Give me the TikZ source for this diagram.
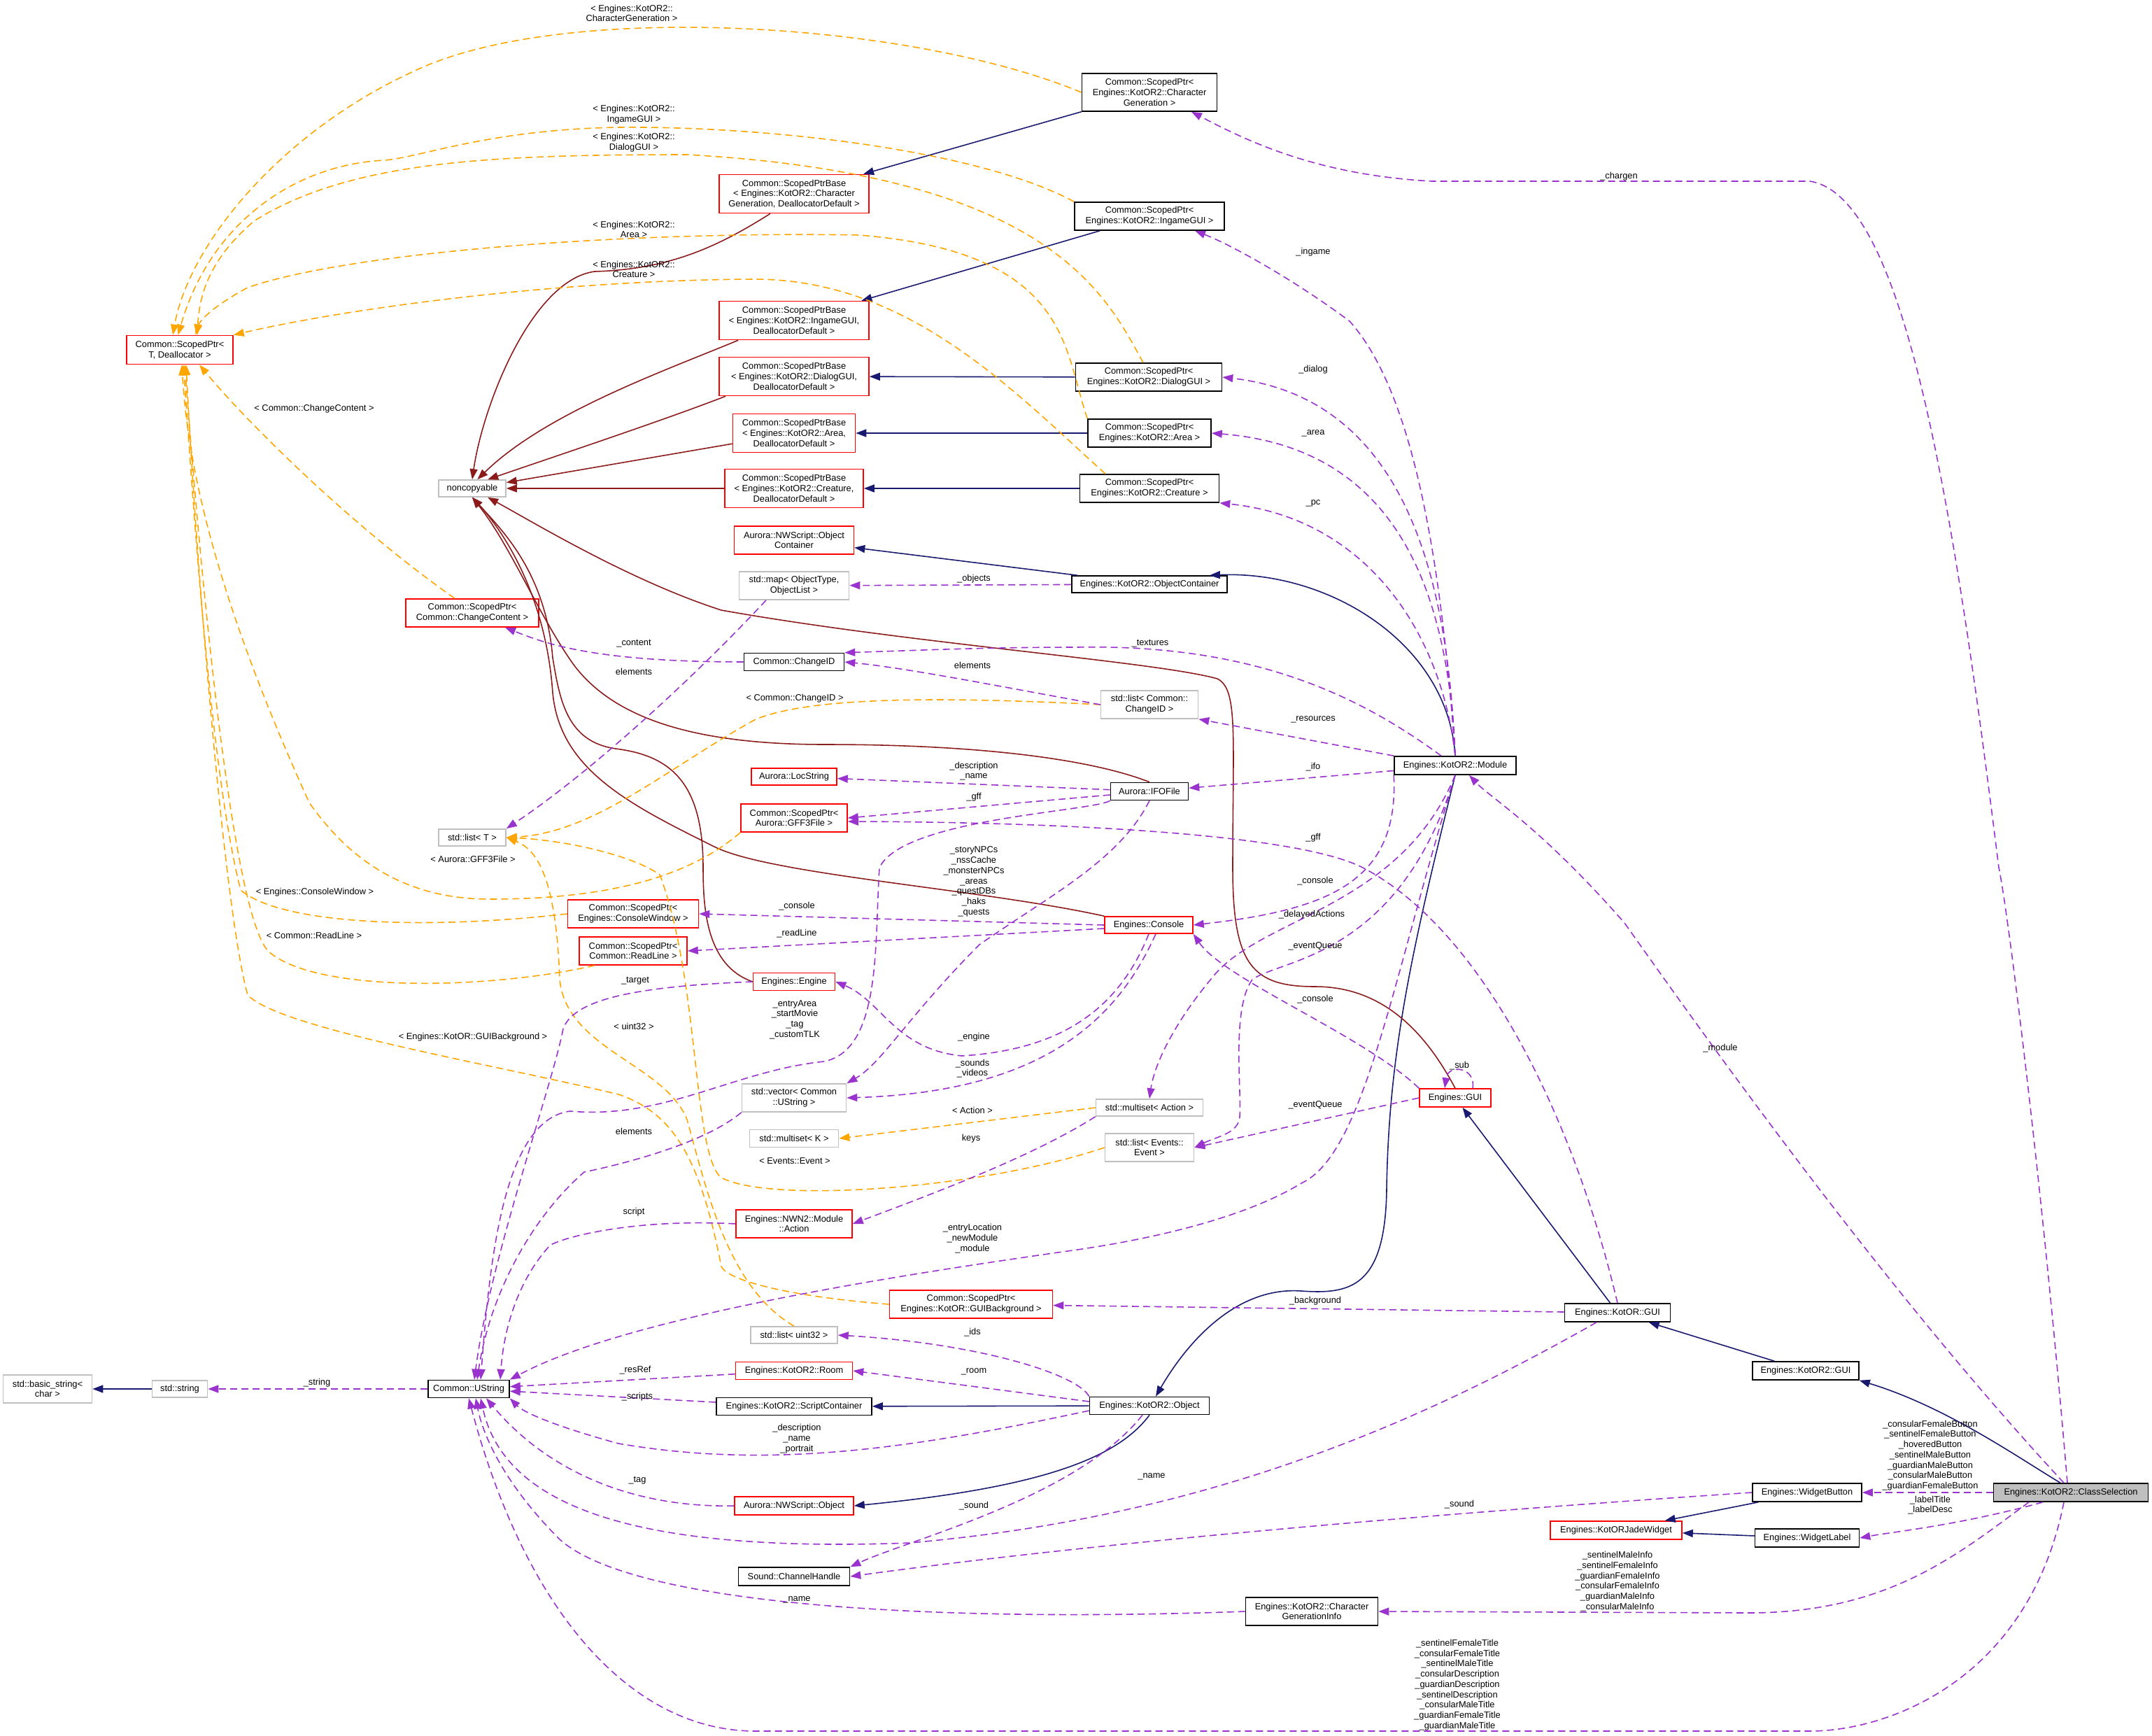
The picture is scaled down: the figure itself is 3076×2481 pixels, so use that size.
\documentclass[tikz,border=0pt]{standalone}
\usepackage{fontspec}
\setmainfont{Liberation Sans}
\usetikzlibrary{arrows.meta}
\definecolor{navyc}{RGB}{25,25,112}
\definecolor{dredc}{RGB}{139,26,26}
\definecolor{orc}{RGB}{255,165,0}
\definecolor{purc}{RGB}{154,50,205}
\definecolor{grc}{RGB}{191,191,191}
\newcommand{\fsz}{\fontsize{7.3}{8.4}\selectfont}
\tikzset{
 base/.style={font=\fsz, align=center, inner sep=1pt, fill=white, line width=0.9pt},
 rb/.style={base, draw=red},
 kb/.style={base, draw=black},
 gb/.style={base, draw=grc},
 sz/.style 2 args={minimum width=#1*0.02cm, minimum height=#2*0.02cm},
 tip/.style={-{Triangle[length=0.3cm,width=0.22cm]}},
 inh/.style={tip, draw=navyc, line width=0.9pt},
 ncr/.style={tip, draw=dredc, line width=0.9pt},
 tmpl/.style={tip, draw=orc, line width=0.9pt, dash pattern=on 0.2cm off 0.12cm},
 use/.style={tip, draw=purc, line width=0.9pt, dash pattern=on 0.2cm off 0.12cm},
 lab/.style={font=\fsz, align=center, inner sep=0pt}
}
\begin{document}
\begin{tikzpicture}[x=0.02cm,y=-0.02cm]
\useasboundingbox[fill=white] (0,0) rectangle (3076,2481);
% nodes
\node[rb,sz={152}{41}] (spt) at (257,500) {Common::ScopedPtr<\\T, Deallocator >};
\node[gb,sz={96}{24}] (nc) at (675,698) {noncopyable};
\node[kb,sz={193}{54}] (spc) at (1643,132) {Common::ScopedPtr<\\Engines::KotOR2::Character\\Generation >};
\node[rb,sz={214}{55}] (spbc) at (1135,277) {Common::ScopedPtrBase\\< Engines::KotOR2::Character\\Generation, DeallocatorDefault >};
\node[kb,sz={214}{40}] (spi) at (1643,309) {Common::ScopedPtr<\\Engines::KotOR2::IngameGUI >};
\node[rb,sz={214}{55}] (spbi) at (1135,458) {Common::ScopedPtrBase\\< Engines::KotOR2::IngameGUI,\\DeallocatorDefault >};
\node[kb,sz={209}{40}] (spd) at (1642,539) {Common::ScopedPtr<\\Engines::KotOR2::DialogGUI >};
\node[rb,sz={214}{55}] (spbd) at (1135,538) {Common::ScopedPtrBase\\< Engines::KotOR2::DialogGUI,\\DeallocatorDefault >};
\node[kb,sz={176}{40}] (spa) at (1643,619) {Common::ScopedPtr<\\Engines::KotOR2::Area >};
\node[rb,sz={175}{55}] (spba) at (1135,619) {Common::ScopedPtrBase\\< Engines::KotOR2::Area,\\DeallocatorDefault >};
\node[kb,sz={199}{40}] (spcr) at (1643,698) {Common::ScopedPtr<\\Engines::KotOR2::Creature >};
\node[rb,sz={198}{55}] (spbcr) at (1135,698) {Common::ScopedPtrBase\\< Engines::KotOR2::Creature,\\DeallocatorDefault >};
\node[rb,sz={171}{40}] (nwoc) at (1135,772) {Aurora::NWScript::Object\\Container};
\node[kb,sz={222}{24}] (oc) at (1643,835) {Engines::KotOR2::ObjectContainer};
\node[gb,sz={157}{40}] (map) at (1135,837) {std::map< ObjectType,\\ObjectList >};
\node[rb,sz={190}{40}] (spcc) at (675,876) {Common::ScopedPtr<\\Common::ChangeContent >};
\node[kb,sz={143}{25}] (cid) at (1135,946) {Common::ChangeID};
\node[gb,sz={139}{40}] (lcid) at (1643,1007) {std::list< Common::\\ChangeID >};
\node[kb,sz={174}{26}] (mod) at (2080,1094) {Engines::KotOR2::Module};
\node[rb,sz={122}{24}] (loc) at (1135,1110) {Aurora::LocString};
\node[kb,sz={111}{25}] (ifo) at (1643,1131) {Aurora::IFOFile};
\node[rb,sz={152}{40}] (gff) at (1135,1169) {Common::ScopedPtr<\\Aurora::GFF3File >};
\node[gb,sz={96}{24}] (lt) at (675,1197) {std::list< T >};
\node[rb,sz={187}{40}] (spcw) at (905,1306) {Common::ScopedPtr<\\Engines::ConsoleWindow >};
\node[rb,sz={154}{40}] (sprl) at (905,1359) {Common::ScopedPtr<\\Common::ReadLine >};
\node[rb,sz={126}{24}] (con) at (1642,1322) {Engines::Console};
\node[rb,sz={117}{25}] (eng) at (1135,1403) {Engines::Engine};
\node[gb,sz={149}{40}] (vec) at (1135,1569) {std::vector< Common\\::UString >};
\node[gb,sz={153}{24}] (msa) at (1643,1583) {std::multiset< Action >};
\node[rb,sz={102}{26}] (gui) at (2080,1569) {Engines::GUI};
\node[gb,sz={127}{25}] (msk) at (1135,1627) {std::multiset< K >};
\node[gb,sz={127}{40}] (lev) at (1643,1640) {std::list< Events::\\Event >};
\node[rb,sz={166}{40}] (act) at (1135,1749) {Engines::NWN2::Module\\::Action};
\node[rb,sz={233}{40}] (bg) at (1388,1864) {Common::ScopedPtr<\\Engines::KotOR::GUIBackground >};
\node[kb,sz={151}{26}] (kgui) at (2312,1876) {Engines::KotOR::GUI};
\node[gb,sz={124}{24}] (lu) at (1135,1908) {std::list< uint32 >};
\node[rb,sz={167}{25}] (room) at (1135,1959) {Engines::KotOR2::Room};
\node[kb,sz={152}{26}] (k2gui) at (2581,1959) {Engines::KotOR2::GUI};
\node[gb,sz={127}{40}] (bs) at (68,1985) {std::basic\_string<\\char >};
\node[gb,sz={79}{24}] (str) at (257,1985) {std::string};
\node[kb,sz={116}{25}] (us) at (670,1985) {Common::UString};
\node[kb,sz={222}{25}] (sc) at (1135,2010) {Engines::KotOR2::ScriptContainer};
\node[kb,sz={171}{25}] (obj) at (1643,2009) {Engines::KotOR2::Object};
\node[kb,sz={156}{26}] (wb) at (2583,2133) {Engines::WidgetButton};
\node[rb,sz={188}{26}] (jade) at (2310,2187) {Engines::KotORJadeWidget};
\node[kb,sz={149}{26}] (wl) at (2583,2198) {Engines::WidgetLabel};
\node[kb,sz={221}{26},fill=grc] (cs) at (2960,2133) {Engines::KotOR2::ClassSelection};
\node[rb,sz={170}{26}] (nwo) at (1135,2152) {Aurora::NWScript::Object};
\node[kb,sz={159}{26}] (ch) at (1135,2253) {Sound::ChannelHandle};
\node[kb,sz={189}{40}] (cgi) at (1875,2303) {Engines::KotOR2::Character\\GenerationInfo};
% inheritance
\draw[inh] (spc) -- (spbc);
\draw[inh] (spi) -- (spbi);
\draw[inh] (spd) -- (spbd);
\draw[inh] (spa) -- (spba);
\draw[inh] (spcr) -- (spbcr);
\draw[inh] (oc) -- (nwoc);
\draw[inh] (mod.north) .. controls (2070,920) and (1900,815) .. ([xshift=1.72cm]oc.north);
\draw[inh] (mod.south) .. controls (2020,1350) and (1985,1500) .. (1982,1700) .. controls (1980,1840) and (1930,1850) .. (1860,1845) .. controls (1760,1838) and (1690,1930) .. ([xshift=0.18cm]obj.north);
\draw[inh] (obj) -- (sc);
\draw[inh] (obj.south) .. controls (1600,2080) and (1500,2125) .. (nwo.east);
\draw[inh] (kgui) -- (gui);
\draw[inh] (k2gui) -- (kgui);
\draw[inh] ([xshift=-0.3cm]cs.north) .. controls (2880,2080) and (2780,2010) .. (k2gui.south east);
\draw[inh] (wb) -- (jade);
\draw[inh] (wl) -- (jade);
\draw[inh] (str) -- (bs);
% noncopyable
\draw[ncr] ([xshift=-0.68cm]spbc.south) .. controls (1030,350) and (960,385) .. (850,388) .. controls (760,400) and (690,580) .. (nc.north);
\draw[ncr] ([xshift=-1.6cm]spbi.south) .. controls (950,530) and (780,590) .. (nc.60);
\draw[ncr] ([xshift=-1.96cm]spbd.south) .. controls (950,600) and (800,650) .. (nc.30);
\draw[ncr] (spba) -- (nc);
\draw[ncr] (spbcr) -- (nc);
\draw[ncr] (ifo.north) .. controls (1560,1085) and (1400,1064) .. (1180,1064) .. controls (1000,1064) and (880,1030) .. (820,950) .. controls (770,880) and (730,780) .. (nc.south);
\draw[ncr] (con.north west) .. controls (1400,1270) and (1100,1250) .. (1021,1210) .. controls (900,1150) and (800,1100) .. (790,990) .. controls (780,850) and (720,760) .. (nc.south);
\draw[ncr] (eng.west) .. controls (1010,1380) and (1005,1300) .. (1005,1240) .. controls (1005,1120) and (960,1080) .. (880,1070) .. controls (810,1060) and (800,1000) .. (790,940) .. controls (780,820) and (720,760) .. (nc.south);
\draw[ncr] (gui.north) .. controls (2040,1480) and (1980,1410) .. (1880,1410) .. controls (1790,1410) and (1762,1380) .. (1762,1240) .. controls (1762,1050) and (1770,985) .. (1740,970) .. controls (1650,945) and (1300,920) .. (1031,872) .. controls (900,830) and (760,745) .. (nc.-30);
% templates
\draw[tmpl] (spc.west) .. controls (1300,30) and (800,0) .. (589,103) .. controls (400,190) and (270,350) .. ([xshift=-0.2cm]spt.north);
\draw[tmpl] (spi.north west) .. controls (1400,215) and (1100,180) .. (884,182) .. controls (700,185) and (600,225) .. (550,229) .. controls (420,235) and (300,320) .. ([xshift=-0.05cm]spt.north);
\draw[tmpl] ([xshift=-0.16cm]spd.north) .. controls (1580,420) and (1500,250) .. (982,221) .. controls (700,221) and (500,230) .. (363,316) .. controls (300,370) and (285,420) .. ([xshift=0.5cm]spt.north);
\draw[tmpl] (spa.north west) .. controls (1520,500) and (1530,360) .. (1228,336) .. controls (900,330) and (500,360) .. (354,411) .. controls (300,440) and (285,460) .. ([xshift=0.45cm]spt.north);
\draw[tmpl] ([xshift=-1.26cm]spcr.north) .. controls (1450,560) and (1300,400) .. (1080,399) .. controls (800,400) and (500,440) .. (spt.north east);
\draw[tmpl] ([xshift=-0.5cm]spcc.north) .. controls (500,750) and (350,600) .. ([xshift=0.56cm]spt.south);
\draw[tmpl] (gff.south west) .. controls (1000,1240) and (900,1285) .. (700,1285) .. controls (580,1285) and (500,1230) .. (442,1147) .. controls (330,900) and (270,700) .. ([xshift=0.06cm]spt.south);
\draw[tmpl] (spcw.west) .. controls (600,1330) and (400,1320) .. (344,1272) .. controls (300,1100) and (275,700) .. ([xshift=0.1cm]spt.south);
\draw[tmpl] ([xshift=-1.1cm]sprl.south) .. controls (700,1414) and (450,1420) .. (383,1359) .. controls (330,1300) and (285,800) .. ([xshift=0.14cm]spt.south);
\draw[tmpl] (bg.west) .. controls (1129,1853) and (1040,1830) .. (1031,1810) .. controls (1000,1650) and (960,1590) .. (884,1564) .. controls (700,1520) and (400,1470) .. (354,1422) .. controls (320,1300) and (280,800) .. ([xshift=0.18cm]spt.south);
\draw[tmpl] (lcid.west) .. controls (1300,993) and (1150,1000) .. (1080,1028) .. controls (950,1100) and (850,1190) .. (lt.east);
\draw[tmpl] (lu.north) .. controls (1040,1840) and (1010,1700) .. (982,1600) .. controls (950,1520) and (810,1500) .. (800,1400) .. controls (795,1260) and (770,1215) .. (lt.east);
\draw[tmpl] (lev.west) .. controls (1400,1700) and (1100,1720) .. (1031,1683) .. controls (990,1650) and (1000,1400) .. (943,1250) .. controls (900,1220) and (800,1200) .. (lt.east);
\draw[tmpl] (msa.west) -- (msk.east);
% usage
\draw[use] ([xshift=-0.1cm]cs.north) .. controls (2920,1700) and (2870,1300) .. (2857,1240) .. controls (2790,700) and (2720,280) .. (2587,259) -- (2047,259) .. controls (1880,250) and (1780,200) .. ([xshift=1.2cm]spc.south);
\draw[use] (mod.north) .. controls (2060,800) and (2020,560) .. (1929,459) .. controls (1850,400) and (1760,350) .. ([xshift=1.3cm]spi.south);
\draw[use] (mod.north) .. controls (2070,850) and (2020,570) .. (spd.east);
\draw[use] (mod.north) .. controls (2070,850) and (2000,640) .. (spa.east);
\draw[use] (mod.north) .. controls (2060,900) and (1950,740) .. (spcr.south east);
\draw[use] (oc) -- (map);
\draw[use] ([xshift=-0.8cm]map.south) .. controls (1000,960) and (850,1100) .. (lt.north east);
\draw[use] (cid.west) .. controls (850,946) and (780,920) .. ([xshift=0.94cm]spcc.south);
\draw[use] (lcid.west) .. controls (1450,985) and (1300,955) .. (cid.east);
\draw[use] ([xshift=-0.4cm]mod.north) .. controls (1950,1000) and (1800,920) .. (1540,925) .. controls (1400,925) and (1300,930) .. (cid.north east);
\draw[use] (mod.north west) -- (lcid.south east);
\draw[use] (mod) -- (ifo);
\draw[use] (ifo) -- (loc);
\draw[use] ([yshift=-0.1cm]ifo.west) -- (gff.east);
\draw[use] (kgui.north) .. controls (2250,1600) and (2120,1330) .. (1948,1240) .. controls (1850,1190) and (1500,1175) .. ([yshift=-0.1cm]gff.east);
\draw[use] (ifo.south) .. controls (1600,1230) and (1500,1280) .. (1400,1350) .. controls (1300,1450) and (1260,1520) .. (vec.north east);
\draw[use] (ifo.south west) .. controls (1560,1160) and (1290,1170) .. (1257,1240) .. controls (1250,1350) and (1260,1500) .. (1178,1517) .. controls (1050,1530) and (950,1600) .. (815,1588) .. controls (720,1600) and (700,1800) .. ([xshift=0.34cm]us.north);
\draw[use] (mod.south west) .. controls (2000,1260) and (1900,1300) .. (con.east);
\draw[use] (con.west) -- (spcw.east);
\draw[use] ([yshift=-0.1cm]con.west) -- (sprl.east);
\draw[use] (con.south) .. controls (1600,1440) and (1520,1500) .. (1375,1509) .. controls (1280,1500) and (1260,1430) .. (eng.east);
\draw[use] ([xshift=0.2cm]con.south) .. controls (1600,1450) and (1500,1560) .. (vec.east);
\draw[use] (gui.north west) .. controls (1950,1480) and (1750,1400) .. (con.south east);
\draw[use] ([xshift=0.5cm]gui.north) .. controls (2110,1525) and (2070,1520) .. ([xshift=-0.3cm]gui.north);
\draw[use] (mod.south) .. controls (2000,1300) and (1800,1310) .. (1732,1398) .. controls (1680,1460) and (1650,1520) .. (msa.north);
\draw[use] (mod.south) .. controls (2000,1370) and (1830,1370) .. (1790,1400) .. controls (1760,1440) and (1775,1560) .. (1772,1596) .. controls (1770,1620) and (1740,1624) .. (lev.east);
\draw[use] (gui.west) -- (lev.east);
\draw[use] (eng.west) .. controls (900,1410) and (820,1430) .. (805,1470) .. controls (790,1550) and (700,1800) .. ([xshift=0.16cm]us.north);
\draw[use] (vec.south west) .. controls (1000,1640) and (860,1670) .. (835,1675) .. controls (760,1740) and (700,1850) .. ([xshift=0.24cm]us.north);
\draw[use] (msa.south west) .. controls (1480,1650) and (1350,1700) .. (act.east);
\draw[use] (act.west) .. controls (900,1741) and (800,1770) .. (786,1780) .. controls (740,1830) and (720,1900) .. ([xshift=0.9cm]us.north);
\draw[use] (mod.south) .. controls (1990,1400) and (1950,1650) .. (1860,1691) .. controls (1780,1740) and (1650,1770) .. (1540,1786) .. controls (1300,1820) and (900,1880) .. (us.north east);
\draw[use] (kgui) -- (bg);
\draw[use] (obj.north west) .. controls (1540,1964) and (1400,1920) .. (lu.east);
\draw[use] ([yshift=0.12cm]obj.west) -- (room.east);
\draw[use] (room) -- (us);
\draw[use] (sc) -- (us);
\draw[use] ([yshift=-0.14cm]obj.west) .. controls (1300,2071) and (1100,2100) .. (884,2063) .. controls (800,2040) and (750,2020) .. (us.south east);
\draw[use] (nwo.west) .. controls (900,2155) and (780,2100) .. ([xshift=0.5cm]us.south);
\draw[use] ([xshift=-0.2cm]obj.south) .. controls (1540,2140) and (1300,2200) .. (ch.north east);
\draw[use] (wb.west) .. controls (2125,2158) and (1600,2200) .. (ch.east);
\draw[use] ([xshift=-0.6cm]kgui.south) .. controls (2000,2050) and (1700,2170) .. (1300,2205) .. controls (900,2220) and (720,2150) .. ([xshift=0.34cm]us.south);
\draw[use] (cgi.west) .. controls (1300,2320) and (900,2290) .. (800,2200) .. controls (720,2120) and (690,2050) .. ([xshift=0.2cm]us.south);
\draw[use] ([xshift=-1.2cm]cs.south) .. controls (2800,2220) and (2700,2305) .. (2500,2305) -- (cgi.east);
\draw[use] (cs) -- (wb);
\draw[use] ([xshift=-0.8cm]cs.south) .. controls (2800,2180) and (2700,2190) .. (wl.east);
\draw[use] ([xshift=-0.2cm]cs.north) .. controls (2700,1850) and (2450,1500) .. (2322,1319) .. controls (2200,1180) and (2130,1140) .. ([xshift=0.4cm]mod.south);
\draw[use] ([xshift=-0.2cm]cs.south) .. controls (2900,2400) and (2700,2474) .. (2587,2474) -- (1080,2474) .. controls (900,2474) and (750,2300) .. (us.south);
\draw[use] (us) -- (str);
% labels
\node[lab] (l1) at (903,19) {< Engines::KotOR2::\\CharacterGeneration >};
\node[lab] (l2) at (906,164) {< Engines::KotOR2::\\IngameGUI >};
\node[lab] (l3) at (906,204) {< Engines::KotOR2::\\DialogGUI >};
\node[lab] (l4) at (906,328) {< Engines::KotOR2::\\Area >};
\node[lab] (l5) at (906,385) {< Engines::KotOR2::\\Creature >};
\node[lab] (l6) at (449,584) {< Common::ChangeContent >};
\node[lab] (l7) at (676,1228) {< Aurora::GFF3File >};
\node[lab] (l8) at (450,1275) {< Engines::ConsoleWindow >};
\node[lab] (l9) at (449,1337) {< Common::ReadLine >};
\node[lab] (l10) at (676,1482) {< Engines::KotOR::GUIBackground >};
\node[lab] (l11) at (1136,998) {< Common::ChangeID >};
\node[lab] (l12) at (906,1467) {< uint32 >};
\node[lab] (l13) at (1136,1659) {< Events::Event >};
\node[lab] (l14) at (1390,1587) {< Action >};
\node[lab] (l15) at (2314,252) {\_chargen};
\node[lab] (l16) at (1877,360) {\_ingame};
\node[lab] (l17) at (1877,528) {\_dialog};
\node[lab] (l18) at (1877,619) {\_area};
\node[lab] (l19) at (1877,719) {\_pc};
\node[lab] (l20) at (1392,827) {\_objects};
\node[lab] (l21) at (906,960) {elements};
\node[lab] (l22) at (906,920) {\_content};
\node[lab] (l23) at (1390,951) {elements};
\node[lab] (l24) at (1644,920) {\_textures};
\node[lab] (l25) at (1877,1028) {\_resources};
\node[lab] (l26) at (1877,1096) {\_ifo};
\node[lab] (l27) at (1392,1102) {\_description\\\_name};
\node[lab] (l28) at (1392,1139) {\_gff};
\node[lab] (l29) at (1877,1197) {\_gff};
\node[lab] (l30) at (1392,1260) {\_storyNPCs\\\_nssCache\\\_monsterNPCs\\\_areas\\\_questDBs\\\_haks\\\_quests};
\node[lab] (l31) at (1139,1295) {\_console};
\node[lab] (l32) at (1139,1334) {\_readLine};
\node[lab] (l33) at (908,1402) {\_target};
\node[lab] (l34) at (1136,1457) {\_entryArea\\\_startMovie\\\_tag\\\_customTLK};
\node[lab] (l35) at (1392,1482) {\_engine};
\node[lab] (l36) at (1390,1527) {\_sounds\\\_videos};
\node[lab] (l37) at (1880,1259) {\_console};
\node[lab] (l38) at (1875,1307) {\_delayedActions};
\node[lab] (l39) at (1880,1352) {\_eventQueue};
\node[lab] (l40) at (1880,1428) {\_console};
\node[lab] (l41) at (2086,1523) {\_sub};
\node[lab] (l42) at (1880,1579) {\_eventQueue};
\node[lab] (l43) at (906,1617) {elements};
\node[lab] (l44) at (1388,1627) {keys};
\node[lab] (l45) at (906,1732) {script};
\node[lab] (l46) at (1390,1770) {\_entryLocation\\\_newModule\\\_module};
\node[lab] (l47) at (1880,1859) {\_background};
\node[lab] (l48) at (1390,1904) {\_ids};
\node[lab] (l49) at (908,1958) {\_resRef};
\node[lab] (l50) at (1392,1960) {\_room};
\node[lab] (l51) at (453,1976) {\_string};
\node[lab] (l52) at (911,1996) {\_scripts};
\node[lab] (l53) at (1139,2056) {\_description\\\_name\\\_portrait};
\node[lab] (l54) at (2459,1498) {\_module};
\node[lab] (l55) at (2759,2080) {\_consularFemaleButton\\\_sentinelFemaleButton\\\_hoveredButton\\\_sentinelMaleButton\\\_guardianMaleButton\\\_consularMaleButton\\\_guardianFemaleButton};
\node[lab] (l56) at (2759,2151) {\_labelTitle\\\_labelDesc};
\node[lab] (l57) at (1646,2110) {\_name};
\node[lab] (l58) at (911,2116) {\_tag};
\node[lab] (l59) at (1392,2152) {\_sound};
\node[lab] (l60) at (2086,2150) {\_sound};
\node[lab] (l61) at (1139,2286) {\_name};
\node[lab] (l62) at (2312,2260) {\_sentinelMaleInfo\\\_sentinelFemaleInfo\\\_guardianFemaleInfo\\\_consularFemaleInfo\\\_guardianMaleInfo\\\_consularMaleInfo};
\node[lab] (l63) at (2083,2408) {\_sentinelFemaleTitle\\\_consularFemaleTitle\\\_sentinelMaleTitle\\\_consularDescription\\\_guardianDescription\\\_sentinelDescription\\\_consularMaleTitle\\\_guardianFemaleTitle\\\_guardianMaleTitle};
\end{tikzpicture}
\end{document}
